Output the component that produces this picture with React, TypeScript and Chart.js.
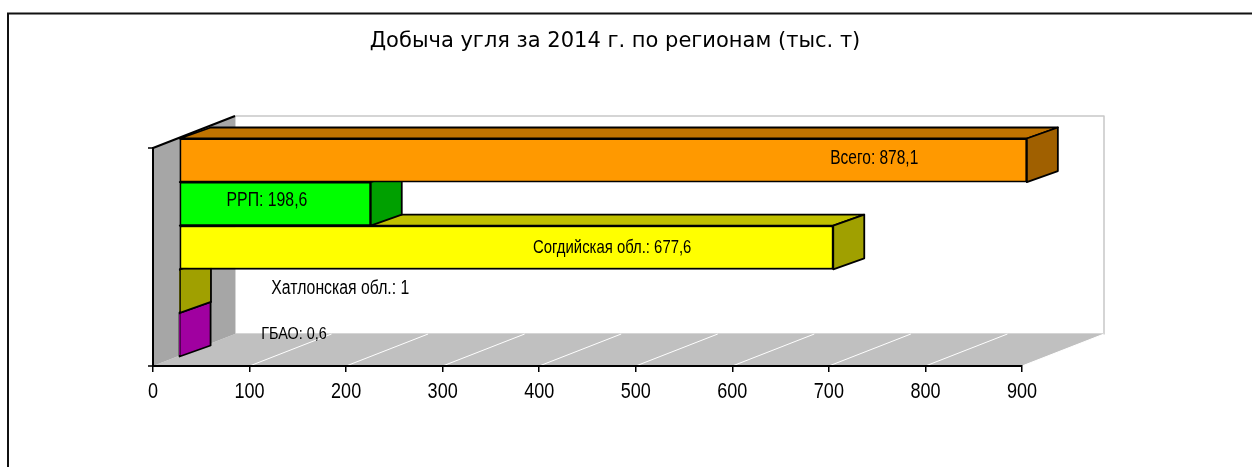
import React, { useEffect, useRef } from "react";
import { Chart, registerables } from "chart.js";

Chart.register(...registerables);

const titleText = "Добыча угля за 2014 г. по регионам (тыс. т)";
const categories = ["Всего", "РРП", "Согдийская обл.", "Хатлонская обл.", "ГБАО"];
const values = [878.1, 198.6, 677.6, 1, 0.6];
const frontColors = ["#FF9900", "#00FF00", "#FFFF00", "#FFFF00", "#FF00FF"];
const topColors = ["#C07300", "#00C000", "#C0C000", "#C0C000", "#C000C0"];
const sideColors = ["#A06000", "#00A000", "#A0A000", "#A0A000", "#A000A0"];
const labelAnchors = [747, 118, 475.6, 194, 146];
const labelShifts = [-11, -12.5, -9.5, -12.5, -10];
const labelSizes = [20, 20, 19, 20, 16];
const labelStretch = [0.775, 0.79, 0.783, 0.79, 0.9];

const WALL = { dx: 82, dy: -32 };
const BAR_OFFSET = { dx: 26, dy: -9.5 };
const BAR_DEPTH = { dx: 31, dy: -11 };
const SANS = "'Liberation Sans', sans-serif";
const TICK_SIZE = 22;
const TICK_STRETCH = 0.82;

function poly(ctx: CanvasRenderingContext2D, pts: number[][], fill: string | null, stroke: string | null, lw = 1) {
  ctx.beginPath();
  pts.forEach((p, i) => (i ? ctx.lineTo(p[0], p[1]) : ctx.moveTo(p[0], p[1])));
  ctx.closePath();
  if (fill) {
    ctx.fillStyle = fill;
    ctx.fill();
  }
  if (stroke) {
    ctx.strokeStyle = stroke;
    ctx.lineWidth = lw;
    ctx.lineJoin = "round";
    ctx.stroke();
  }
}

function narrowText(ctx: CanvasRenderingContext2D, text: string, x: number, y: number, size: number, stretch: number) {
  ctx.save();
  ctx.font = `${size}px ${SANS}`;
  ctx.fillStyle = "#000";
  ctx.textAlign = "center";
  ctx.textBaseline = "middle";
  ctx.translate(x, y);
  ctx.scale(stretch, 1);
  ctx.fillText(text, 0, 0);
  ctx.restore();
}

const scene3d = {
  id: "scene3d",
  afterLayout(chart: any) {
    chart.titleBlock.left = 0;
    chart.titleBlock.right = 1230;
  },
  beforeDraw(chart: any) {
    const { ctx, chartArea: a, scales } = chart;
    ctx.save();
    // outer frame, runs off the page on the right and bottom
    ctx.strokeStyle = "#111";
    ctx.lineWidth = 2;
    ctx.beginPath();
    ctx.moveTo(8, 480);
    ctx.lineTo(8, 13.5);
    ctx.lineTo(1260, 13.5);
    ctx.stroke();

    const { left: l, right: r, top: t, bottom: b } = a;
    const d = WALL;
    // back wall
    poly(ctx, [[l + d.dx, t + d.dy], [r + d.dx, t + d.dy], [r + d.dx, b + d.dy], [l + d.dx, b + d.dy]], "#FFFFFF", "#C8C8C8", 1.5);
    // floor
    poly(ctx, [[l, b], [l + d.dx, b + d.dy], [r + d.dx, b + d.dy], [r, b]], "#C0C0C0", null);
    // floor grid
    ctx.strokeStyle = "#FFFFFF";
    ctx.lineWidth = 1;
    scales.x.ticks.forEach((tk: any) => {
      const x = scales.x.getPixelForValue(tk.value);
      if (tk.value === 0) return;
      ctx.beginPath();
      ctx.moveTo(x, b);
      ctx.lineTo(x + d.dx, b + d.dy);
      ctx.stroke();
    });
    // side wall
    poly(ctx, [[l, t], [l + d.dx, t + d.dy], [l + d.dx, b + d.dy], [l, b]], "#A6A6A6", null);
    ctx.strokeStyle = "#000";
    ctx.lineWidth = 2;
    ctx.beginPath();
    ctx.moveTo(l, t);
    ctx.lineTo(l + d.dx, t + d.dy);
    ctx.stroke();
    // axis end ticks at the category axis
    ctx.lineWidth = 1.5;
    [t, b].forEach((y: number) => {
      ctx.beginPath();
      ctx.moveTo(l - 5, y);
      ctx.lineTo(l, y);
      ctx.stroke();
    });
    ctx.restore();
    // value-axis tick labels, narrowed like the original's condensed face
    scales.x.ticks.forEach((tk: any) => {
      narrowText(ctx, tk.label, scales.x.getPixelForValue(tk.value), b + 25.5, TICK_SIZE, TICK_STRETCH);
    });
  },
  beforeDatasetsDraw(chart: any) {
    const { ctx } = chart;
    const els = chart.getDatasetMeta(0).data;
    ctx.save();
    const o = BAR_OFFSET;
    const e = BAR_DEPTH;
    for (let i = els.length - 1; i >= 0; i--) {
      const el = els[i];
      const p = el.getProps(["x", "y", "base", "height"], true);
      const x0 = p.base + o.dx;
      const x1 = p.x + o.dx;
      const y0 = p.y - p.height / 2 + o.dy;
      const y1 = p.y + p.height / 2 + o.dy;
      poly(ctx, [[x0, y0], [x0 + e.dx, y0 + e.dy], [x1 + e.dx, y0 + e.dy], [x1, y0]], topColors[i], "#000", 1.8);
      poly(ctx, [[x1, y0], [x1 + e.dx, y0 + e.dy], [x1 + e.dx, y1 + e.dy], [x1, y1]], sideColors[i], "#000", 1.8);
    }
    ctx.restore();
    ctx.save();
    ctx.translate(o.dx, o.dy);
  },
  afterDatasetsDraw(chart: any) {
    const { ctx, scales } = chart;
    ctx.restore();
    categories.forEach((c, i) => {
      const text = `${c}: ${String(values[i]).replace(".", ",")}`;
      const x = scales.x.getPixelForValue(labelAnchors[i]);
      const y = scales.y.getPixelForValue(i) + labelShifts[i];
      narrowText(ctx, text, x, y, labelSizes[i], labelStretch[i]);
    });
  },
};

export default function App() {
  const ref = useRef<HTMLCanvasElement>(null);
  useEffect(() => {
    const chart = new Chart(ref.current!, {
      type: "bar",
      plugins: [scene3d],
      data: {
        labels: categories,
        datasets: [
          {
            data: values,
            backgroundColor: frontColors,
            borderColor: "#000",
            borderWidth: 1.8,
            borderSkipped: false,
            barPercentage: 1,
            categoryPercentage: 1,
            clip: false,
          } as any,
        ],
      },
      options: {
        indexAxis: "y",
        responsive: false,
        animation: false,
        layout: { padding: { left: 0, right: 230, top: 0, bottom: 0 } },
        plugins: {
          legend: { display: false },
          tooltip: { enabled: false },
          title: {
            display: true,
            text: titleText,
            color: "#000",
            font: { family: "'DejaVu Sans'", size: 21, weight: "normal" },
            padding: { top: 29, bottom: 93.8 },
          },
        },
        scales: {
          x: {
            type: "linear",
            min: 0,
            max: 900,
            afterFit: (s: any) => {
              s.height = 101;
            },
            ticks: { stepSize: 100, display: false, maxRotation: 0 },
            grid: { drawOnChartArea: false, drawTicks: true, tickLength: 6, color: "#000", lineWidth: 1.5 },
            border: { display: true, color: "#000", width: 2 },
          },
          y: {
            type: "category",
            afterFit: (s: any) => {
              s.width = 153;
            },
            ticks: { display: false },
            grid: { display: false },
            border: { display: true, color: "#000", width: 2 },
          },
        },
      },
    } as any);
    return () => chart.destroy();
  }, []);
  return (
    <div style={{ position: "absolute", left: 0, top: 0 }}>
      <canvas ref={ref} width={1252} height={467} style={{ display: "block" }} />
    </div>
  );
}
